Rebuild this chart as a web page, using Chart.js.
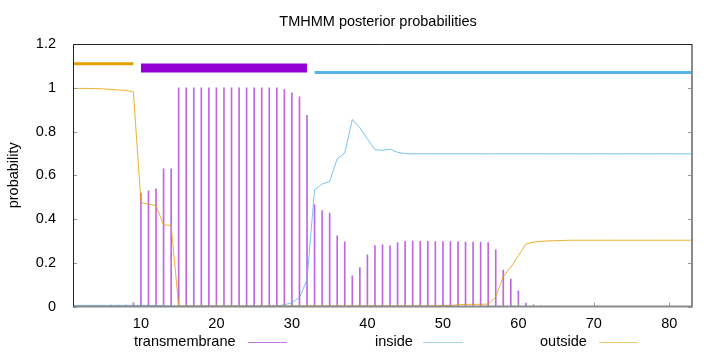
<!DOCTYPE html>
<html>
<head>
<meta charset="utf-8">
<script src="https://cdn.jsdelivr.net/npm/chart.js@4/dist/chart.umd.min.js"></script>
<style>
  html, body { margin: 0; padding: 0; background: #fff; }
  #wrap { width: 720px; height: 352px; }
</style>
</head>
<body>
<div id="wrap"><canvas id="tmhmmChart"></canvas></div>
<script>
// residue positions
const residues = [
   1,  2,  3,  4,  5,  6,  7,  8,  9, 10,
  11, 12, 13, 14, 15, 16, 17, 18, 19, 20,
  21, 22, 23, 24, 25, 26, 27, 28, 29, 30,
  31, 32, 33, 34, 35, 36, 37, 38, 39, 40,
  41, 42, 43, 44, 45, 46, 47, 48, 49, 50,
  51, 52, 53, 54, 55, 56, 57, 58, 59, 60,
  61, 62, 63, 64, 65, 66, 67, 68, 69, 70,
  71, 72, 73, 74, 75, 76, 77, 78, 79, 80,
  81, 82, 83
];

const transmembrane = [
  0.002, 0.002, 0.002, 0.002, 0.002, 0.006, 0.006, 0.006, 0.017, 0.519,
  0.529, 0.538, 0.629, 0.629, 1.000, 1.000, 1.000, 1.000, 1.000, 1.000,
  1.000, 1.000, 1.000, 1.000, 1.000, 1.000, 1.000, 1.000, 0.992, 0.977,
  0.959, 0.874, 0.465, 0.439, 0.427, 0.323, 0.296, 0.140, 0.178, 0.236,
  0.279, 0.282, 0.277, 0.292, 0.298, 0.299, 0.298, 0.298, 0.297, 0.297,
  0.297, 0.296, 0.294, 0.294, 0.294, 0.292, 0.259, 0.167, 0.125, 0.072,
  0.016, 0.008, 0.003, 0.002, 0.002, 0, 0, 0, 0, 0,
  0, 0, 0, 0, 0, 0, 0, 0, 0, 0,
  0, 0, 0
];

const inside = [
  0.005, 0.005, 0.005, 0.005, 0.005, 0.005, 0.005, 0.005, 0.005, 0.005,
  0.005, 0.005, 0.003, 0.003, 0.002, 0.002, 0.002, 0.002, 0.002, 0.002,
  0.002, 0.002, 0.002, 0.002, 0.002, 0.002, 0.002, 0.003, 0.008, 0.017,
  0.042, 0.121, 0.534, 0.560, 0.572, 0.675, 0.702, 0.855, 0.817, 0.766,
  0.717, 0.714, 0.719, 0.705, 0.699, 0.698, 0.698, 0.698, 0.698, 0.698,
  0.698, 0.698, 0.698, 0.698, 0.698, 0.698, 0.698, 0.698, 0.698, 0.698,
  0.698, 0.698, 0.698, 0.698, 0.698, 0.698, 0.698, 0.698, 0.698, 0.698,
  0.698, 0.698, 0.698, 0.698, 0.698, 0.698, 0.698, 0.698, 0.698, 0.698,
  0.698, 0.698, 0.698
];

const outside = [
  0.997, 0.997, 0.997, 0.996, 0.995, 0.992, 0.990, 0.988, 0.982, 0.476,
  0.468, 0.461, 0.373, 0.371, 0.002, 0.002, 0.002, 0.002, 0.002, 0.002,
  0.002, 0.002, 0.002, 0.002, 0.002, 0.002, 0.002, 0.002, 0.003, 0.003,
  0.003, 0.003, 0.003, 0.003, 0.003, 0.003, 0.003, 0.003, 0.003, 0.003,
  0.003, 0.003, 0.003, 0.003, 0.003, 0.003, 0.003, 0.003, 0.003, 0.004,
  0.005, 0.008, 0.010, 0.010, 0.010, 0.011, 0.043, 0.137, 0.180, 0.232,
  0.286, 0.294, 0.298, 0.300, 0.301, 0.302, 0.303, 0.303, 0.303, 0.303,
  0.303, 0.303, 0.303, 0.303, 0.303, 0.303, 0.303, 0.303, 0.303, 0.303,
  0.303, 0.303, 0.303
];

// predicted topology: [from, to]
const outsideSpan = [1, 9];
const tmSpan = [10, 32];
const insideSpan = [33, 83];

const xTicks = [10, 20, 30, 40, 50, 60, 70, 80];
const yTicks = [0, 0.2, 0.4, 0.6, 0.8, 1, 1.2];

const PURPLE = '#9400d3';
const BLUE = '#56b4e9';
const ORANGE = '#e69f00';
const FONT = '"Liberation Sans", Arial, sans-serif';

const pts = (ys) => residues.map((x, i) => ({ x: x, y: ys[i] }));
const span = (s, level) => [{ x: s[0], y: level }, { x: s[1], y: level }];

const lineStyle = {
  type: 'line',
  borderWidth: 1,
  pointRadius: 0,
  tension: 0,
  fill: false
};

/* frame, inner ticks, title and legend like the gnuplot original */
const decor = {
  id: 'decor',
  afterDraw(chart) {
    const ctx = chart.ctx;
    const a = chart.chartArea;
    const xs = chart.scales.x, ys = chart.scales.y;
    ctx.save();

    // tick marks pointing inwards
    ctx.strokeStyle = '#9a9a9a';
    ctx.lineWidth = 1;
    ctx.beginPath();
    yTicks.forEach(v => {
      const y = Math.round(ys.getPixelForValue(v)) + 0.5;
      ctx.moveTo(a.left, y); ctx.lineTo(a.left + 4, y);
      ctx.moveTo(a.right, y); ctx.lineTo(a.right - 4, y);
    });
    xTicks.forEach(v => {
      const x = Math.round(xs.getPixelForValue(v)) + 0.5;
      ctx.moveTo(x, a.bottom); ctx.lineTo(x, a.bottom - 4);
    });
    ctx.stroke();

    // border
    ctx.strokeStyle = '#8a8a8a';
    ctx.lineWidth = 2;
    ctx.beginPath();
    ctx.moveTo(a.right, a.top); ctx.lineTo(a.right, a.bottom); ctx.lineTo(a.left, a.bottom);
    ctx.stroke();
    ctx.strokeStyle = '#222';
    ctx.lineWidth = 1;
    ctx.beginPath();
    ctx.moveTo(a.left + 0.5, a.bottom); ctx.lineTo(a.left + 0.5, a.top + 0.5); ctx.lineTo(a.right, a.top + 0.5);
    ctx.stroke();

    // title
    ctx.fillStyle = '#000';
    ctx.font = '14.5px ' + FONT;
    ctx.textAlign = 'center';
    ctx.textBaseline = 'middle';
    ctx.fillText('TMHMM posterior probabilities', 378, 22);

    // legend: text then a short line sample
    const legend = [
      { label: 'transmembrane', tx: 134, l0: 248, l1: 287, color: 'rgba(148,0,211,0.55)' },
      { label: 'inside', tx: 375, l0: 423, l1: 463, color: 'rgba(86,180,233,0.55)' },
      { label: 'outside', tx: 540, l0: 599, l1: 638, color: 'rgba(230,159,0,0.55)' }
    ];
    ctx.textAlign = 'left';
    legend.forEach(it => {
      ctx.fillStyle = '#000';
      ctx.fillText(it.label, it.tx, 342);
      ctx.strokeStyle = it.color;
      ctx.lineWidth = 1;
      ctx.beginPath();
      ctx.moveTo(it.l0, 342.5); ctx.lineTo(it.l1, 342.5);
      ctx.stroke();
    });
    ctx.restore();
  }
};

new Chart(document.getElementById('tmhmmChart'), {
  type: 'line',
  data: {
    datasets: [
      Object.assign({}, lineStyle, {
        label: 'outside', data: pts(outside),
        borderColor: 'rgba(230,159,0,0.8)', order: 1
      }),
      Object.assign({}, lineStyle, {
        label: 'inside', data: pts(inside),
        borderColor: 'rgba(86,180,233,0.8)', order: 2
      }),
      {
        type: 'bar', label: 'transmembrane', data: pts(transmembrane),
        backgroundColor: 'rgba(148,0,211,0.6)', barThickness: 1,
        grouped: false, order: 3
      },
      // topology bars at the top
      Object.assign({}, lineStyle, {
        label: 'outside span', data: span(outsideSpan, 1.11),
        borderColor: ORANGE, borderWidth: 3, borderCapStyle: 'butt', order: 0
      }),
      Object.assign({}, lineStyle, {
        label: 'tm span', data: span(tmSpan, 1.09),
        borderColor: PURPLE, borderWidth: 9, borderCapStyle: 'butt', order: 0
      }),
      Object.assign({}, lineStyle, {
        label: 'inside span', data: span(insideSpan, 1.07),
        borderColor: BLUE, borderWidth: 3, borderCapStyle: 'butt', order: 0
      })
    ]
  },
  options: {
    responsive: true,
    maintainAspectRatio: false,
    animation: false,
    layout: {
      padding: { top: 44, right: 28, bottom: 0, left: 0 }
    },
    plugins: {
      legend: { display: false },
      title: { display: false },
      tooltip: { enabled: false }
    },
    scales: {
      x: {
        type: 'linear',
        min: 1,
        max: 83,
        offset: false,
        grid: { display: false },
        border: { display: false },
        afterBuildTicks: (s) => { s.ticks = xTicks.map(v => ({ value: v })); },
        afterFit: (s) => { s.height = 45.5; },
        ticks: {
          color: '#000',
          padding: 1,
          maxRotation: 0,
          autoSkip: false,
          font: { family: FONT, size: 14.5 }
        }
      },
      y: {
        min: 0,
        max: 1.2,
        grid: { display: false },
        border: { display: false },
        afterBuildTicks: (s) => { s.ticks = yTicks.map(v => ({ value: v })); },
        afterFit: (s) => { s.width = 73; },
        title: {
          display: true,
          text: 'probability',
          color: '#000',
          padding: { top: 5, bottom: 0 },
          font: { family: FONT, size: 14.5 }
        },
        ticks: {
          color: '#000',
          padding: 9,
          callback: (v) => String(Math.round(v * 10) / 10),
          font: { family: FONT, size: 14.5 }
        }
      }
    }
  },
  plugins: [decor]
});
</script>
</body>
</html>
